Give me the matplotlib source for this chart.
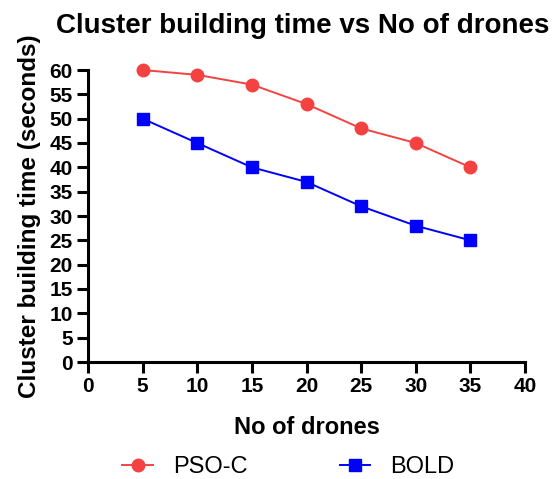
import matplotlib
matplotlib.use("Agg")
import matplotlib.pyplot as plt

# Data
drones = [5, 10, 15, 20, 25, 30, 35]
pso_c = [60, 59, 57, 53, 48, 45, 40]
bold = [50, 45, 40, 37, 32, 28, 25]

plt.rcParams["font.family"] = ["Liberation Sans", "DejaVu Sans"]

fig = plt.figure(figsize=(5.6, 4.79), dpi=100)
ax = fig.add_axes([88 / 560, 1 - 362 / 479, (525 - 88) / 560, (362 - 70) / 479])

ax.plot(drones, pso_c, color="#f44242", marker="o", markersize=9, linewidth=1.4,
        label="PSO-C", clip_on=False)
ax.plot(drones, bold, color="#0000ff", marker="s", markersize=9, linewidth=1.4,
        label="BOLD", clip_on=False)

ax.set_xlim(0, 40)
ax.set_ylim(0, 60)
ax.set_xticks(range(0, 41, 5))
ax.set_yticks(range(0, 61, 5))
for s in ["top", "right"]:
    ax.spines[s].set_visible(False)
for s in ["left", "bottom"]:
    ax.spines[s].set_linewidth(2.2)
ax.tick_params(width=2.2, length=8, labelsize=15, pad=3)
for lbl in ax.get_xticklabels() + ax.get_yticklabels():
    lbl.set_fontweight("bold")

ax.set_xlabel("No of drones", fontsize=17, fontweight="bold", labelpad=14)
ax.set_ylabel("Cluster building time (seconds)", fontsize=17.5, fontweight="bold", labelpad=6)
fig.text(0.54, 0.945, "Cluster building time vs No of drones", ha="center", va="center",
         fontsize=20, fontweight="bold")

fig.legend(loc="center", bbox_to_anchor=(0.515, 0.025), ncol=2, frameon=False,
           fontsize=17, columnspacing=3.9, handlelength=1.3, handletextpad=0.85)

fig.savefig("out.png", dpi=100)
